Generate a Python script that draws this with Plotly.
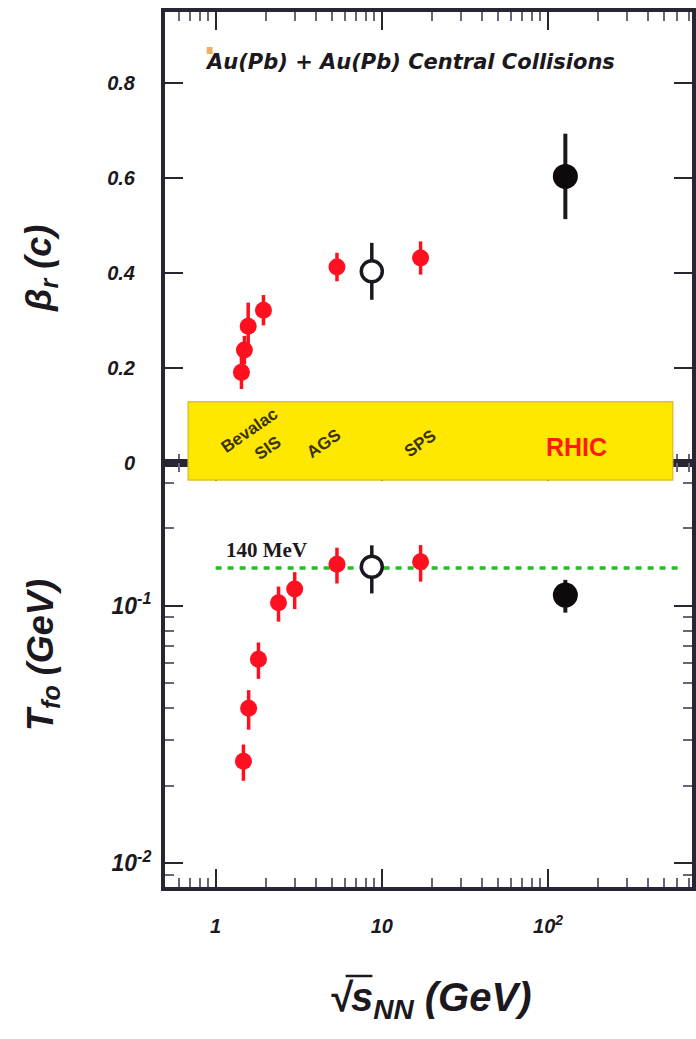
import plotly.graph_objects as go
from plotly.subplots import make_subplots

# ---------------- data ----------------
# top panel: radial flow velocity beta_r (c)
beta_red_x = [1.43, 1.49, 1.57, 1.94, 5.37, 17.1]
beta_red_y = [0.191, 0.238, 0.288, 0.322, 0.413, 0.432]
beta_red_err = [0.035, 0.03, 0.05, 0.032, 0.03, 0.035]
beta_open_x = [8.7]
beta_open_y = [0.404]
beta_open_err = [0.06]
beta_rhic_x = [127]
beta_rhic_y = [0.604]
beta_rhic_err = [0.09]

# bottom panel: freeze-out temperature T_fo (GeV)
t_red_x = [1.47, 1.58, 1.81, 2.39, 2.99, 5.37, 17.1]
t_red_y = [0.0249, 0.040, 0.062, 0.1027, 0.116, 0.145, 0.148]
t_red_err = [0.004, 0.007, 0.010, 0.016, 0.019, 0.023, 0.024]
t_open_x = [8.7]
t_open_y = [0.1416]
t_open_err = [0.03]
t_rhic_x = [127]
t_rhic_y = [0.110]
t_rhic_err = [0.016]

line140_x = [1.0, 615]
line140_y = [0.14, 0.14]

x_tickvals = [1, 10, 100]
x_ticktext = ["1", "10", "10<sup>2</sup>"]
x_minor = [0.6, 0.7, 0.8, 0.9, 2, 3, 4, 5, 6, 7, 8, 9,
           20, 30, 40, 50, 60, 70, 80, 90, 200, 300, 400, 500, 600, 700]
y1_tickvals = [0, 0.2, 0.4, 0.6, 0.8]
y1_ticktext = ["0", "0.2", "0.4", "0.6", "0.8"]
y2_tickvals = [0.01, 0.1]
y2_ticktext = ["10<sup>-2</sup>", "10<sup>-1</sup>"]
y2_minor = [0.009, 0.02, 0.03, 0.04, 0.05, 0.06, 0.07, 0.08, 0.09, 0.2, 0.3]

band_x = [0.684, 562]  # yellow accelerator band (data x)
band_labels = ["Bevalac", "SIS", "AGS", "SPS", "RHIC"]

# ---------------- figure ----------------
RED = "#ff1020"
INK = "#1c1820"
FR = "#2a2532"

fig = make_subplots(rows=2, cols=1, shared_xaxes=True, vertical_spacing=0)

def eb(arr, col, th):
    return dict(type="data", array=arr, color=col, thickness=th, width=0)

fig.add_trace(go.Scatter(x=beta_red_x, y=beta_red_y, mode="markers",
                         marker=dict(symbol="circle", size=17, color=RED),
                         error_y=eb(beta_red_err, RED, 3.5)), row=1, col=1)
fig.add_trace(go.Scatter(x=beta_open_x, y=beta_open_y, mode="markers",
                         marker=dict(symbol="circle", size=21, color="white",
                                     line=dict(color=INK, width=3.5)),
                         error_y=eb(beta_open_err, INK, 3.5)), row=1, col=1)
fig.add_trace(go.Scatter(x=beta_rhic_x, y=beta_rhic_y, mode="markers",
                         marker=dict(symbol="circle", size=25, color="#0e0a0c"),
                         error_y=eb(beta_rhic_err, INK, 4)), row=1, col=1)

fig.add_trace(go.Scatter(x=line140_x, y=line140_y, mode="lines",
                         line=dict(color="#22c022", width=3.5, dash="6px,6px")),
              row=2, col=1)
fig.add_trace(go.Scatter(x=t_red_x, y=t_red_y, mode="markers",
                         marker=dict(symbol="circle", size=17, color=RED),
                         error_y=eb(t_red_err, RED, 3.5)), row=2, col=1)
fig.add_trace(go.Scatter(x=t_open_x, y=t_open_y, mode="markers",
                         marker=dict(symbol="circle", size=21, color="white",
                                     line=dict(color=INK, width=3.5)),
                         error_y=eb(t_open_err, INK, 3.5)), row=2, col=1)
fig.add_trace(go.Scatter(x=t_rhic_x, y=t_rhic_y, mode="markers",
                         marker=dict(symbol="circle", size=25, color="#0e0a0c"),
                         error_y=eb(t_rhic_err, INK, 4)), row=2, col=1)

tickfont = dict(family="Liberation Sans", size=20, color=INK,
                weight="bold", style="italic")
tickfont2 = dict(family="Liberation Sans", size=23, color=INK,
                 weight="bold", style="italic")

W, H = 696, 1039
L, R, T, B = 165, 0, 12, 152
split = (887 - 463) / 875.0

axcommon = dict(showgrid=False, zeroline=False, showline=True, linecolor=FR,
                ticks="inside", tickcolor=FR, mirror="allticks")

fig.update_xaxes(type="log", range=[-0.3045, 2.8657], tickvals=x_tickvals,
                 ticktext=x_ticktext, ticklen=18, tickwidth=1.5,
                 minor=dict(tickvals=x_minor, ticks="inside", ticklen=9,
                            tickcolor="#6a6478", tickwidth=1.5),
                 **axcommon)
fig.update_xaxes(showticklabels=False, linewidth=3.5, row=1, col=1)
fig.update_xaxes(showticklabels=True, linewidth=4, tickfont=tickfont,
                 ticklabelstandoff=18, row=2, col=1)

fig.update_yaxes(range=[0, 0.9505], tickvals=y1_tickvals, ticktext=y1_ticktext,
                 ticklen=18, tickwidth=1.5, linewidth=4, tickfont=tickfont,
                 ticklabelstandoff=22, domain=[split, 1], row=1, col=1,
                 **axcommon)
fig.update_yaxes(type="log", range=[-2.0924, -0.4458], tickvals=y2_tickvals,
                 ticktext=y2_ticktext, ticklen=18, tickwidth=1.5, linewidth=4,
                 tickfont=tickfont2, ticklabelstandoff=5,
                 minor=dict(tickvals=y2_minor, ticks="inside", ticklen=9,
                            tickcolor="#6a6478", tickwidth=1.5),
                 domain=[0, split], row=2, col=1, **axcommon)

def px(xp):
    return (xp - L) / (W - L - R)

def py(yp):
    return (887 - yp) / 875.0

shapes = [
    dict(type="rect", xref="x2", yref="paper", x0=band_x[0], x1=band_x[1],
         y0=py(480), y1=py(401.7), fillcolor="#ffe800",
         line=dict(color="#e0c030", width=1.5), layer="above"),
    dict(type="rect", xref="paper", yref="paper", x0=px(207), x1=px(213),
         y0=py(54), y1=py(47), fillcolor="#f0b060", line=dict(width=0)),
    # overline of the square root in the x title
    dict(type="line", xref="paper", yref="paper", x0=px(347), x1=px(374),
         y0=py(976), y1=py(976), line=dict(color=INK, width=2.5)),
]

def note(text, xx, yy, font, angle=0):
    return dict(text=text, x=px(xx), y=py(yy), xref="paper", yref="paper",
                xanchor="center", yanchor="middle", showarrow=False,
                textangle=angle, font=font)

ann = []
band_font = dict(family="Liberation Sans", size=17, color="#3a3200", weight="bold")
band_pos = [(250, 430), (268, 448), (325, 443), (422, 443)]
for lab, (xx, yy) in zip(band_labels[:4], band_pos):
    ann.append(note(lab, xx, yy, band_font, -35))
ann.append(note(band_labels[4], 580, 447,
                dict(family="Liberation Sans", size=25, color="#ff1a10",
                     weight="bold")))
ann.append(note("Au(Pb) + Au(Pb) Central Collisions", 412, 62,
                dict(family="DejaVu Sans", size=21, color=INK,
                     weight="bold", style="italic")))
ann.append(note("140 MeV", 267, 550,
                dict(family="Liberation Serif", size=21, color=INK,
                     weight="bold")))
ann.append(note("β<sub>r</sub> (c)", 40, 268,
                dict(family="Liberation Sans", size=36, color=INK,
                     weight="bold", style="italic"), -90))
ann.append(note("T<sub>fo</sub> (GeV)", 42, 655,
                dict(family="Liberation Sans", size=36, color=INK,
                     weight="bold", style="italic"), -90))
ann.append(note("√s<sub>NN</sub> (GeV)", 432, 1000,
                dict(family="Liberation Sans", size=40, color=INK,
                     weight="bold", style="italic")))

fig.update_layout(width=W, height=H, margin=dict(l=L, r=R, t=T, b=B),
                  paper_bgcolor="white", plot_bgcolor="white",
                  showlegend=False, shapes=shapes, annotations=ann)

fig.write_html("out.html")
